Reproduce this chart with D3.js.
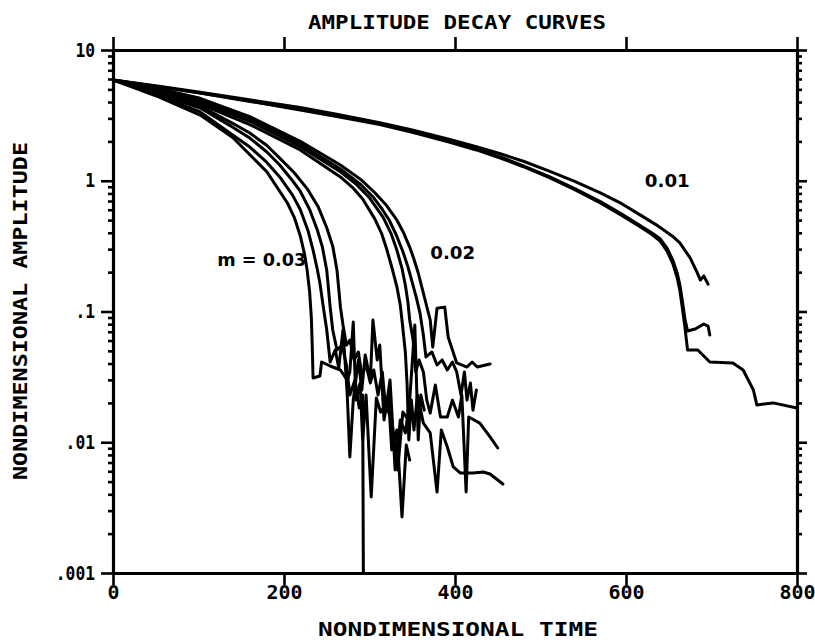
<!DOCTYPE html>
<html>
<head>
<meta charset="utf-8">
<script src="https://cdn.jsdelivr.net/npm/d3@7"></script>
<style>
  body { margin: 0; background: #fff; }
  text { font-family: "DejaVu Sans Mono", monospace; font-weight: bold; fill: #000; }
</style>
</head>
<body>
<div id="chart"></div>
<script>
// tick values and labels
const xTicks = [0, 200, 400, 600, 800];
const yMajor = [0.001, 0.01, 0.1, 1, 10];
const yLabels = [".001", ".01", ".1", "1", "10"];

// m = 0.01 runs, [time, amplitude]
const m01a = [[0,5.9],[50,5.32],[102,4.75],[150,4.25],[219,3.63],[260,3.24],[312,2.78],[350,2.45],[394,2.07],[425,1.82],[453,1.61],[480,1.41],[511,1.18],[540,0.989],[570,0.807],[595,0.668],[616,0.551],[635,0.462],[654,0.378],[663,0.335],[675,0.257],[683,0.200],[687,0.174],[691,0.187],[696,0.162]];
const m01b = [[0,5.9],[50,5.27],[102,4.69],[150,4.18],[219,3.52],[260,3.16],[312,2.73],[350,2.39],[394,2.01],[425,1.76],[453,1.52],[480,1.30],[511,1.07],[540,0.871],[570,0.692],[595,0.556],[616,0.457],[630,0.40],[640,0.36],[648,0.305],[655,0.245],[660,0.195],[663,0.16],[666,0.12],[669,0.087],[672,0.0709],[681,0.0735],[691,0.0802],[696,0.0774],[698,0.0661]];
const m01c = [[0,5.9],[50,5.27],[102,4.69],[150,4.15],[219,3.48],[260,3.11],[312,2.69],[350,2.35],[394,1.97],[425,1.72],[453,1.49],[480,1.28],[511,1.05],[540,0.855],[570,0.676],[595,0.543],[616,0.447],[630,0.39],[640,0.345],[648,0.29],[655,0.23],[660,0.18],[663,0.145],[666,0.105],[669,0.075],[672,0.0508],[684,0.0508],[698,0.0411],[725,0.0404],[737,0.0357],[749,0.0251],[753,0.0193],[772,0.0200],[800,0.0183]];

// m = 0.02 runs
const m02a = [[0,5.9],[50,4.95],[102,3.86],[160,2.69],[219,1.72],[266,1.07],[280,0.891],[292,0.724],[306,0.513],[314,0.398],[320,0.302],[326,0.219],[332,0.155],[336,0.112],[338,0.0861],[342,0.0482],[344,0.0274],[346,0.0104],[349,0.0210],[352,0.0124],[356,0.0230],[363,0.0140],[371,0.0118],[379,0.00416],[384,0.0124],[391,0.0092],[398,0.00647],[406,0.00582],[421,0.00582],[433,0.00592],[441,0.00572],[456,0.00479]];
const m02b = [[0,5.9],[50,5.01],[102,4.0],[160,2.85],[219,1.82],[266,1.17],[285,0.933],[300,0.741],[316,0.525],[325,0.398],[332,0.295],[338,0.214],[342,0.158],[345,0.117],[347,0.0861],[351,0.0605],[354,0.0345],[358,0.0426],[363,0.0345],[367,0.0210],[371,0.0167],[377,0.0274],[383,0.0156],[391,0.0156],[397,0.0210],[404,0.0156],[408,0.0230],[413,0.00416],[416,0.0156],[429,0.0140],[441,0.0110],[450,0.00904]];
const m02c = [[0,5.9],[50,5.07],[102,4.15],[160,2.99],[219,1.91],[266,1.23],[290,0.933],[305,0.741],[315,0.603],[323,0.501],[331,0.389],[339,0.288],[345,0.219],[351,0.158],[355,0.126],[359,0.0977],[363,0.0661],[366,0.0449],[373,0.0490],[379,0.0390],[385,0.0426],[391,0.0357],[397,0.0411],[402,0.0345],[407,0.0230],[411,0.0345],[414,0.0210],[418,0.0284],[421,0.0176],[425,0.0251]];
const m02d = [[0,5.9],[50,5.13],[102,4.27],[160,3.09],[219,2.0],[266,1.32],[290,1.02],[306,0.813],[320,0.646],[332,0.501],[340,0.398],[347,0.311],[352,0.251],[357,0.197],[363,0.138],[371,0.0861],[374,0.0535],[379,0.106],[388,0.108],[392,0.0638],[397,0.0508],[402,0.0404],[414,0.0376],[420,0.0411],[426,0.0376],[441,0.0397]];

// m = 0.03 runs
const m03a = [[0,5.9],[50,4.47],[102,3.18],[140,2.14],[180,1.17],[204,0.676],[212,0.525],[219,0.380],[224,0.275],[227,0.209],[230,0.141],[232,0.0891],[233,0.0555],[234,0.0310],[242,0.0321],[244,0.0411],[254,0.0383],[266,0.0357],[274,0.0299],[277,0.0345],[281,0.0831],[284,0.0210],[289,0.0284],[292,0.0104],[296,0.0230],[302,0.00381],[308,0.0218],[313,0.0170],[319,0.0193],[326,0.0148],[333,0.00614],[339,0.0170],[344,0.0153]];
const m03b = [[0,5.9],[50,4.57],[102,3.36],[140,2.24],[160,1.81],[180,1.38],[195,1.07],[210,0.776],[219,0.603],[228,0.417],[234,0.295],[239,0.209],[242,0.165],[246,0.108],[250,0.0722],[254,0.0411],[260,0.0508],[264,0.0370],[269,0.0722],[274,0.0230],[277,0.00771],[281,0.0210],[287,0.0426],[291,0.0251],[295,0.0465],[301,0.0299],[304,0.0861],[309,0.0426],[312,0.0554],[317,0.0148],[322,0.0230],[326,0.00873],[332,0.0124],[338,0.00268],[343,0.00953],[347,0.00731]];
const m03c = [[0,5.9],[50,4.68],[102,3.60],[140,2.57],[160,2.12],[180,1.66],[195,1.32],[210,1.0],[219,0.832],[230,0.603],[239,0.420],[245,0.309],[250,0.207],[254,0.108],[257,0.0722],[262,0.0508],[268,0.0554],[273,0.0390],[277,0.0230],[283,0.0299],[288,0.0183],[292,0.0230],[293,0.0005]];
const m03d = [[0,5.9],[50,4.79],[102,3.73],[140,2.75],[160,2.32],[180,1.86],[195,1.49],[212,1.15],[227,0.871],[240,0.631],[250,0.437],[257,0.316],[262,0.207],[266,0.108],[269,0.0788],[273,0.0554],[277,0.0605],[282,0.0426],[287,0.0490],[291,0.0327],[296,0.0390],[301,0.0284],[305,0.0357],[310,0.0230],[315,0.0345],[319,0.0176],[324,0.0299],[330,0.00614],[336,0.0148],[342,0.0118],[347,0.0210],[353,0.0788],[357,0.0104],[360,0.0230],[364,0.0176]];

const runs = [m01a, m01b, m01c, m02a, m02b, m02c, m02d, m03a, m03b, m03c, m03d];

// curve labels: text, time, amplitude at baseline
const curveLabels = [
  {text: "0.01", t: 622, a: 0.896, w: 45},
  {text: "0.02", t: 371, a: 0.252, w: 45},
  {text: "m = 0.03", t: 122, a: 0.223, w: 89}
];

const width = 815, height = 642;
const margin = {top: 50, right: 18, bottom: 69, left: 113};

const svg = d3.select("#chart").append("svg")
  .attr("width", width)
  .attr("height", height)
  .style("background-color", "white");

const x = d3.scaleLinear()
  .domain([0, 800])
  .range([margin.left, width - margin.right]);

const y = d3.scaleLog()
  .domain([0.001, 10])
  .range([height - margin.bottom, margin.top]);

// minor log ticks 2..9 in each decade
const yMinor = [];
yMajor.slice(0, -1).forEach(d => {
  for (let k = 2; k <= 9; k++) yMinor.push(d * k);
});

svg.append("defs").append("clipPath").attr("id", "plot")
  .append("rect")
  .attr("x", margin.left).attr("y", margin.top)
  .attr("width", width - margin.left - margin.right)
  .attr("height", height - margin.top - margin.bottom);

function styleAxis(g) {
  g.selectAll("path.domain").attr("stroke-width", 3.2).attr("stroke", "#000");
  g.selectAll(".tick line").attr("stroke-width", 2.6).attr("stroke", "#000");
}

// left axis
svg.append("g")
  .attr("transform", `translate(${margin.left},0)`)
  .call(d3.axisLeft(y).tickValues(yMajor).tickSize(12).tickSizeOuter(0).tickPadding(6)
    .tickFormat((d, i) => yLabels[i]))
  .call(styleAxis)
  .call(g => g.selectAll("text").style("font-size", "19px")
    .attr("textLength", (d, i) => yLabels[i].length * 9.8)
    .attr("lengthAdjust", "spacingAndGlyphs"));

svg.append("g")
  .attr("transform", `translate(${margin.left},0)`)
  .call(d3.axisLeft(y).tickValues(yMinor).tickSize(5).tickFormat(""))
  .call(styleAxis)
  .call(g => g.select(".domain").remove());

// right axis
svg.append("g")
  .attr("transform", `translate(${width - margin.right},0)`)
  .call(d3.axisRight(y).tickValues(yMajor).tickSize(10).tickSizeOuter(0).tickFormat(""))
  .call(styleAxis);

svg.append("g")
  .attr("transform", `translate(${width - margin.right},0)`)
  .call(d3.axisRight(y).tickValues(yMinor).tickSize(5).tickFormat(""))
  .call(styleAxis)
  .call(g => g.select(".domain").remove());

// top axis
svg.append("g")
  .attr("transform", `translate(0,${margin.top})`)
  .call(d3.axisTop(x).tickValues(xTicks).tickSize(13).tickSizeOuter(0).tickFormat(""))
  .call(styleAxis);

// bottom axis
svg.append("g")
  .attr("transform", `translate(0,${height - margin.bottom})`)
  .call(d3.axisBottom(x).tickValues(xTicks).tickSize(12).tickSizeOuter(0).tickPadding(0))
  .call(styleAxis)
  .call(g => g.selectAll("text").style("font-size", "20px")
    .attr("textLength", d => String(d).length * 12)
    .attr("lengthAdjust", "spacingAndGlyphs"));

// the decay curves
const line = d3.line()
  .x(d => x(d[0]))
  .y(d => y(d[1]));

svg.append("g")
  .attr("clip-path", "url(#plot)")
  .selectAll("path")
  .data(runs)
  .enter().append("path")
    .attr("d", line)
    .attr("fill", "none")
    .attr("stroke", "black")
    .attr("stroke-width", 3)
    .attr("stroke-linejoin", "round")
    .attr("stroke-linecap", "round");

// curve labels
svg.selectAll("text.curve")
  .data(curveLabels)
  .enter().append("text")
    .attr("class", "curve")
    .attr("x", d => x(d.t))
    .attr("y", d => y(d.a))
    .attr("textLength", d => d.w)
    .attr("lengthAdjust", "spacingAndGlyphs")
    .style("font-family", "'DejaVu Sans', sans-serif")
    .style("font-size", "17px")
    .text(d => d.text);

// titles
svg.append("text")
  .attr("x", 457).attr("y", 29)
  .attr("text-anchor", "middle")
  .attr("textLength", 298).attr("lengthAdjust", "spacingAndGlyphs")
  .style("font-size", "19px")
  .text("AMPLITUDE DECAY CURVES");

svg.append("text")
  .attr("x", 458).attr("y", 636)
  .attr("text-anchor", "middle")
  .attr("textLength", 280).attr("lengthAdjust", "spacingAndGlyphs")
  .style("font-size", "19px")
  .text("NONDIMENSIONAL TIME");

svg.append("text")
  .attr("transform", "translate(27,311) rotate(-90)")
  .attr("text-anchor", "middle")
  .attr("textLength", 338).attr("lengthAdjust", "spacingAndGlyphs")
  .style("font-size", "19px")
  .text("NONDIMENSIONAL AMPLITUDE");
</script>
</body>
</html>
